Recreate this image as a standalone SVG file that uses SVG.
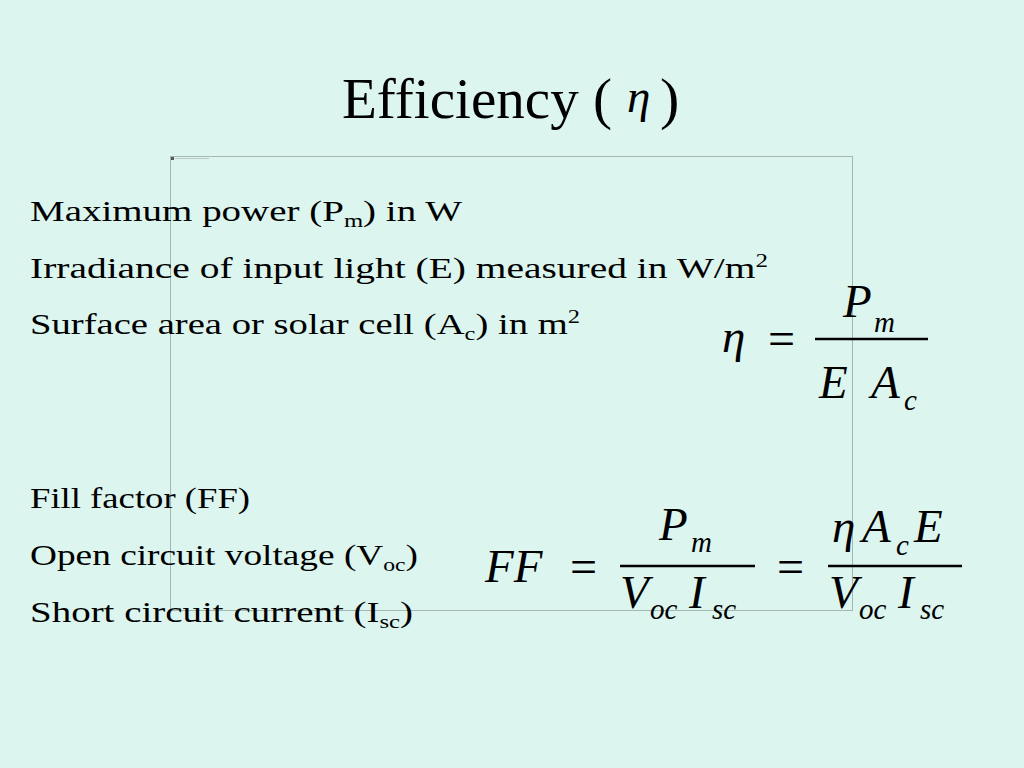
<svg xmlns="http://www.w3.org/2000/svg" width="1024" height="768" viewBox="0 0 1024 768">
<style>
.t{font-family:"Liberation Serif","Times New Roman",serif;fill:#000}
.body{font-size:30px}
.sub{font-size:19px}
.m{font-family:"Liberation Serif","Times New Roman",serif;font-style:italic;fill:#000;font-size:47px}
.ms{font-family:"Liberation Serif","Times New Roman",serif;font-style:italic;fill:#000;font-size:29px}
.op{font-family:"Liberation Serif","Times New Roman",serif;fill:#000;font-size:48px}
.bar{stroke:#000;stroke-width:2.6}
</style>
<rect width="1024" height="768" fill="#dcf5ef"/>
<g id="frame">
<rect x="170.5" y="156.5" width="682" height="454" fill="none" stroke="#a3b8b1" stroke-width="1"/>
<rect x="171" y="157" width="3" height="3" fill="#555"/>
<line x1="175" y1="158.5" x2="209" y2="158.5" stroke="#b8c8c3" stroke-width="1"/>
</g>
<g id="title">
<text class="t" x="342" y="118" font-size="58" textLength="270" lengthAdjust="spacingAndGlyphs">Efficiency (</text>
<text class="m" x="627" y="112" font-size="48">η</text>
<text class="t" x="660" y="118" font-size="58">)</text>
</g>
<g id="definitions">
<text class="t body" x="30" y="221" textLength="432" lengthAdjust="spacingAndGlyphs">Maximum power (P<tspan class="sub" dy="6">m</tspan><tspan dy="-6">) in W</tspan></text>
<text class="t body" x="30" y="278" textLength="738" lengthAdjust="spacingAndGlyphs">Irradiance of input light (E) measured in W/m<tspan class="sub" dy="-11">2</tspan></text>
<text class="t body" x="30" y="334" textLength="550" lengthAdjust="spacingAndGlyphs">Surface area or solar cell (A<tspan class="sub" dy="6">c</tspan><tspan dy="-6">) in m</tspan><tspan class="sub" dy="-11">2</tspan></text>
<text class="t body" x="30" y="508" textLength="220" lengthAdjust="spacingAndGlyphs">Fill factor (FF)</text>
<text class="t body" x="30" y="565" textLength="388" lengthAdjust="spacingAndGlyphs">Open circuit voltage (V<tspan class="sub" dy="6">oc</tspan><tspan dy="-6">)</tspan></text>
<text class="t body" x="30" y="622" textLength="383" lengthAdjust="spacingAndGlyphs">Short circuit current (I<tspan class="sub" dy="6">sc</tspan><tspan dy="-6">)</tspan></text>
</g>
<g id="eq-efficiency">
<text class="m" x="722" y="352" font-size="58">η</text>
<text class="op" x="768" y="355">=</text>
<line class="bar" x1="815" y1="339" x2="928" y2="339"/>
<text class="m" x="843" y="317">P</text>
<text class="ms" x="874" y="332">m</text>
<text class="m" x="819" y="398">E</text>
<text class="m" x="871" y="398">A</text>
<text class="ms" x="904" y="410">c</text>
</g>
<g id="eq-fillfactor">
<text class="m" x="485" y="582" font-size="49">FF</text>
<text class="op" x="570" y="583">=</text>
<line class="bar" x1="620" y1="566" x2="755" y2="566"/>
<text class="m" x="659" y="540">P</text>
<text class="ms" x="691" y="552">m</text>
<text class="m" x="620" y="608">V</text>
<text class="ms" x="650" y="619">oc</text>
<text class="m" x="689" y="608">I</text>
<text class="ms" x="712" y="619">sc</text>
<text class="op" x="777" y="583">=</text>
<line class="bar" x1="828" y1="566" x2="962" y2="566"/>
<text class="m" x="832" y="542" font-size="50">η</text>
<text class="m" x="862" y="542">A</text>
<text class="ms" x="896" y="555">c</text>
<text class="m" x="914" y="542">E</text>
<text class="m" x="829" y="608">V</text>
<text class="ms" x="859" y="619">oc</text>
<text class="m" x="898" y="608">I</text>
<text class="ms" x="920" y="619">sc</text>
</g>
</svg>
